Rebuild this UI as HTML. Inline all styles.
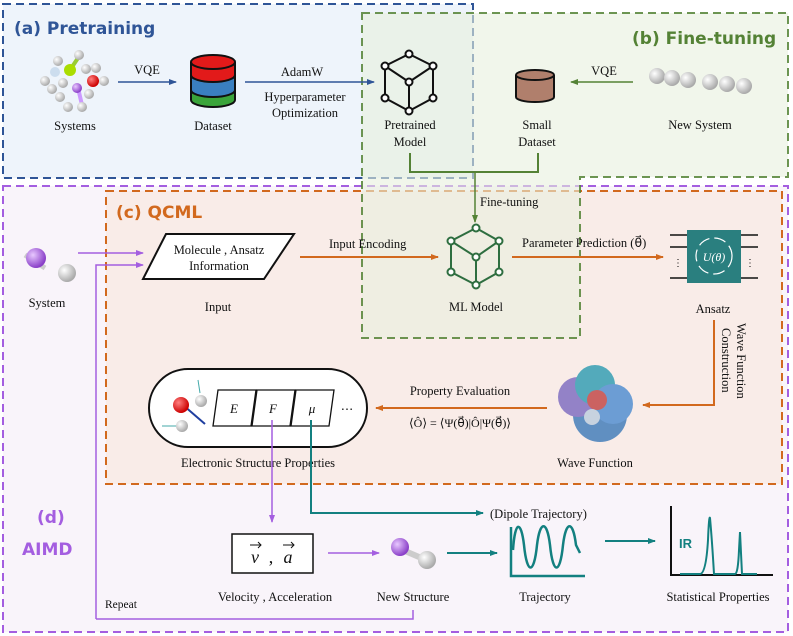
<!DOCTYPE html>
<html><head><meta charset="utf-8"><style>
html,body{margin:0;padding:0;background:#fff;}
svg{display:block;}
text{font-family:"Liberation Serif",serif;font-size:12.5px;fill:#111;}
.t{font-family:"DejaVu Sans","Liberation Sans",sans-serif;font-weight:bold;font-size:17px;}
</style></head><body>
<svg width="793" height="636" viewBox="0 0 793 636" xmlns="http://www.w3.org/2000/svg">
<defs>
<marker id="ab" markerWidth="8" markerHeight="8" refX="7" refY="4" orient="auto" markerUnits="userSpaceOnUse"><path d="M0,1 L8,4 L0,7 Z" fill="#2f5597"/></marker>
<marker id="ag" markerWidth="8" markerHeight="8" refX="7" refY="4" orient="auto" markerUnits="userSpaceOnUse"><path d="M0,1 L8,4 L0,7 Z" fill="#548235"/></marker>
<marker id="ao" markerWidth="8" markerHeight="8" refX="7" refY="4" orient="auto" markerUnits="userSpaceOnUse"><path d="M0,1 L8,4 L0,7 Z" fill="#d2691e"/></marker>
<marker id="ap" markerWidth="8" markerHeight="8" refX="7" refY="4" orient="auto" markerUnits="userSpaceOnUse"><path d="M0,1 L8,4 L0,7 Z" fill="#a45ee0"/></marker>
<marker id="at" markerWidth="8" markerHeight="8" refX="7" refY="4" orient="auto" markerUnits="userSpaceOnUse"><path d="M0,1 L8,4 L0,7 Z" fill="#138080"/></marker>
<radialGradient id="gw" cx="35%" cy="35%" r="65%"><stop offset="0" stop-color="#fff"/><stop offset="1" stop-color="#aaa"/></radialGradient>
<radialGradient id="gp" cx="35%" cy="35%" r="65%"><stop offset="0" stop-color="#e8c8ff"/><stop offset="1" stop-color="#8a3fc8"/></radialGradient>
<radialGradient id="gr" cx="35%" cy="35%" r="65%"><stop offset="0" stop-color="#ff8080"/><stop offset="1" stop-color="#c00"/></radialGradient>
</defs>
<rect x="3" y="186" width="785" height="446" fill="#f9f4fa" stroke="#a45ee0" stroke-width="2" stroke-dasharray="8,5"/>
<rect x="106" y="191" width="676" height="293" fill="#f9ece8" stroke="#d2691e" stroke-width="2" stroke-dasharray="8,5"/>
<rect x="3" y="4" width="470" height="174" fill="#eef4fb" stroke="#2f5597" stroke-width="2" stroke-dasharray="8,5"/>
<path d="M362,13 H788 V177 H580 V338 H362 Z" fill="#e8f0de" fill-opacity="0.6" stroke="#548235" stroke-opacity="0.85" stroke-width="2" stroke-dasharray="8,5"/>
<text class="t" x="14" y="34" style="fill:#2f5597">(a) Pretraining</text>
<text class="t" x="632" y="44" style="fill:#548235">(b) Fine-tuning</text>
<text class="t" x="116" y="218" style="fill:#d2691e">(c) QCML</text>
<text class="t" x="37" y="523" style="fill:#a45ee0">(d)</text>
<text class="t" x="22" y="555" style="fill:#a45ee0">AIMD</text>

<g>
<line x1="70" y1="70" x2="78" y2="58" stroke="#9c3" stroke-width="4"/>
<line x1="78" y1="88" x2="82" y2="105" stroke="#c9f" stroke-width="4"/>
<circle cx="58" cy="61" r="5" fill="url(#gw)"/><circle cx="79" cy="55" r="5" fill="url(#gw)"/>
<circle cx="55" cy="72" r="5" fill="#cde"/><circle cx="70" cy="70" r="6" fill="#ad0"/>
<circle cx="63" cy="83" r="5" fill="url(#gw)"/><circle cx="86" cy="69" r="5" fill="url(#gw)"/><circle cx="96" cy="68" r="5" fill="url(#gw)"/>
<circle cx="45" cy="81" r="5" fill="url(#gw)"/><circle cx="52" cy="89" r="5" fill="url(#gw)"/><circle cx="60" cy="97" r="5" fill="url(#gw)"/><circle cx="68" cy="107" r="5" fill="url(#gw)"/>
<circle cx="77" cy="88" r="5" fill="url(#gp)"/><circle cx="82" cy="107" r="5" fill="url(#gw)"/>
<circle cx="93" cy="81" r="6" fill="url(#gr)"/><circle cx="104" cy="81" r="5" fill="url(#gw)"/><circle cx="89" cy="94" r="5" fill="url(#gw)"/>
</g>
<text x="75" y="130" text-anchor="middle">Systems</text>
<line x1="118" y1="82" x2="176" y2="82" stroke="#2f5597" stroke-width="1.5" marker-end="url(#ab)"/>
<text x="147" y="74" text-anchor="middle">VQE</text>
<g stroke="#111" stroke-width="2">
<path d="M191,62 V100 A22,7 0 0 0 235,100 V62" fill="#3aa43a"/>
<path d="M191,62 V90 A22,7 0 0 0 235,90 V62" fill="#3a7fc0"/>
<path d="M191,62 V75 A22,7 0 0 0 235,75 V62" fill="#e21a1a"/>
<ellipse cx="213" cy="62" rx="22" ry="7" fill="#e21a1a"/>
</g>
<text x="213" y="130" text-anchor="middle">Dataset</text>
<line x1="245" y1="82" x2="374" y2="82" stroke="#2f5597" stroke-width="1.5" marker-end="url(#ab)"/>
<text x="302" y="76" text-anchor="middle">AdamW</text>
<text x="305" y="101" text-anchor="middle">Hyperparameter</text>
<text x="305" y="117" text-anchor="middle">Optimization</text>
<g stroke="#111" stroke-width="2" fill="#fff">
<path d="M409,54 L433,66 V98 L409,111 L385,98 V66 Z M385,66 L409,82 L433,66 M409,82 V111" fill="none"/>
<circle cx="409" cy="54" r="3.5"/><circle cx="433" cy="66" r="3.5"/><circle cx="433" cy="98" r="3.5"/><circle cx="409" cy="111" r="3.5"/><circle cx="385" cy="98" r="3.5"/><circle cx="385" cy="66" r="3.5"/><circle cx="409" cy="82" r="3.5"/>
</g>
<text x="410" y="129" text-anchor="middle">Pretrained</text>
<text x="410" y="146" text-anchor="middle">Model</text>
<g stroke="#111" stroke-width="2"><path d="M516,75 V97 A19,5 0 0 0 554,97 V75" fill="#b07f6c"/><ellipse cx="535" cy="75" rx="19" ry="5" fill="#b07f6c"/></g>
<text x="537" y="129" text-anchor="middle">Small</text>
<text x="537" y="146" text-anchor="middle">Dataset</text>
<line x1="633" y1="82" x2="571" y2="82" stroke="#548235" stroke-width="1.5" marker-end="url(#ag)"/>
<text x="604" y="75" text-anchor="middle">VQE</text>
<g><circle cx="657" cy="76" r="8" fill="url(#gw)"/><circle cx="672" cy="78" r="8" fill="url(#gw)"/><circle cx="688" cy="80" r="8" fill="url(#gw)"/><circle cx="710" cy="82" r="8" fill="url(#gw)"/><circle cx="727" cy="84" r="8" fill="url(#gw)"/><circle cx="744" cy="86" r="8" fill="url(#gw)"/></g>
<text x="700" y="129" text-anchor="middle">New System</text>
<path d="M410,153 V172 H538 V153" fill="none" stroke="#548235" stroke-width="2"/>
<line x1="475" y1="172" x2="475" y2="222" stroke="#548235" stroke-width="1.5" marker-end="url(#ag)"/>
<text x="480" y="206">Fine-tuning</text>

<line x1="25" y1="255" x2="45" y2="268" stroke="#ccc" stroke-width="5"/>
<circle cx="36" cy="258" r="10" fill="url(#gp)"/><circle cx="67" cy="273" r="9" fill="url(#gw)"/>
<text x="47" y="307" text-anchor="middle">System</text>
<line x1="78" y1="253" x2="143" y2="253" stroke="#a45ee0" stroke-width="1.5" marker-end="url(#ap)"/>
<path d="M96,619 V265 H143" fill="none" stroke="#a45ee0" stroke-width="1.5" marker-end="url(#ap)"/>
<path d="M96,619 H413 V610" fill="none" stroke="#a45ee0" stroke-width="1.5"/>
<text x="105" y="608" style="font-size:11.5px">Repeat</text>
<polygon points="166,234 294,234 264,279 143,279" fill="#fff" stroke="#111" stroke-width="2"/>
<text x="219" y="254" text-anchor="middle">Molecule , Ansatz</text>
<text x="219" y="270" text-anchor="middle">Information</text>
<text x="218" y="311" text-anchor="middle">Input</text>
<line x1="300" y1="257" x2="438" y2="257" stroke="#d2691e" stroke-width="2" marker-end="url(#ao)"/>
<text x="329" y="248">Input Encoding</text>
<g stroke="#2e6e40" stroke-width="2" fill="#fff">
<path d="M476,228 L499,241 V272 L476,285 L451,272 V241 Z M451,241 L476,257 L499,241 M476,257 V285" fill="none"/>
<circle cx="476" cy="228" r="3.5"/><circle cx="499" cy="241" r="3.5"/><circle cx="499" cy="272" r="3.5"/><circle cx="476" cy="285" r="3.5"/><circle cx="451" cy="272" r="3.5"/><circle cx="451" cy="241" r="3.5"/><circle cx="476" cy="257" r="3.5"/>
</g>
<text x="476" y="311" text-anchor="middle">ML Model</text>
<line x1="512" y1="257" x2="663" y2="257" stroke="#d2691e" stroke-width="2" marker-end="url(#ao)"/>
<text x="522" y="247">Parameter Prediction (θ⃗)</text>
<g stroke="#111" stroke-width="1.5"><line x1="670" y1="235" x2="758" y2="235"/><line x1="670" y1="247" x2="758" y2="247"/><line x1="670" y1="278" x2="758" y2="278"/></g>
<rect x="687" y="230" width="54" height="53" fill="#2a7f7f"/>
<circle cx="714" cy="256" r="18" fill="none" stroke="#fff" stroke-width="1.2" stroke-dasharray="12,5"/>
<text x="714" y="261" text-anchor="middle" style="fill:#fff;font-style:italic;font-size:12px">U(θ)</text>
<text x="678" y="266" text-anchor="middle" style="font-size:10px">⋮</text><text x="750" y="266" text-anchor="middle" style="font-size:10px">⋮</text>
<text x="713" y="313" text-anchor="middle">Ansatz</text>
<path d="M714,320 V405 H643" fill="none" stroke="#d2691e" stroke-width="2" marker-end="url(#ao)"/>
<text transform="translate(737,323) rotate(90)">Wave Function</text>
<text transform="translate(722,328) rotate(90)">Construction</text>
<g opacity="0.8"><circle cx="600" cy="415" r="27" fill="#3a78b8"/><circle cx="578" cy="397" r="20" fill="#7a68c0"/><circle cx="595" cy="385" r="20" fill="#2a9ab0"/><circle cx="613" cy="404" r="20" fill="#4a8ad0"/><circle cx="597" cy="400" r="10" fill="#c04040"/><circle cx="592" cy="417" r="8" fill="#bcd"/></g>
<text x="595" y="467" text-anchor="middle">Wave Function</text>
<line x1="547" y1="408" x2="376" y2="408" stroke="#d2691e" stroke-width="2" marker-end="url(#ao)"/>
<text x="460" y="395" text-anchor="middle">Property Evaluation</text>
<text x="460" y="427" text-anchor="middle" style="font-size:12px">⟨Ô⟩ = ⟨Ψ(θ⃗)|Ô|Ψ(θ⃗)⟩</text>
<rect x="149" y="369" width="218" height="78" rx="39" fill="#fff" stroke="#111" stroke-width="2"/>
<line x1="183" y1="405" x2="205" y2="424" stroke="#1f3fa0" stroke-width="2"/>
<line x1="198" y1="380" x2="200" y2="393" stroke="#4aa" stroke-width="1"/><line x1="162" y1="426" x2="178" y2="426" stroke="#4aa" stroke-width="1"/>
<circle cx="201" cy="401" r="6" fill="url(#gw)"/><circle cx="182" cy="426" r="6" fill="url(#gw)"/><circle cx="181" cy="405" r="8" fill="url(#gr)"/>
<g fill="#fff" stroke="#111" stroke-width="1.3"><polygon points="218,390 256,390 251,426 213,426"/><polygon points="257,390 295,390 290,426 252,426"/><polygon points="296,390 334,390 329,426 291,426"/></g>
<text x="234" y="413" text-anchor="middle" style="font-style:italic;font-size:13px">E</text><text x="273" y="413" text-anchor="middle" style="font-style:italic;font-size:13px">F</text><text x="312" y="413" text-anchor="middle" style="font-style:italic;font-size:13px">μ</text>
<text x="347" y="413" text-anchor="middle">⋯</text>
<text x="258" y="467" text-anchor="middle">Electronic Structure Properties</text>
<line x1="272" y1="420" x2="272" y2="522" stroke="#a45ee0" stroke-width="1.5" marker-end="url(#ap)"/>
<path d="M311,420 V513 H483" fill="none" stroke="#138080" stroke-width="2" marker-end="url(#at)"/>
<text x="490" y="518">(Dipole Trajectory)</text>
<rect x="232" y="534" width="81" height="39" fill="#fff" stroke="#111" stroke-width="1.5"/>
<text x="255" y="563" text-anchor="middle" style="font-style:italic;font-size:18px">v</text>
<text x="271" y="563" text-anchor="middle" style="font-size:18px">,</text>
<text x="288" y="563" text-anchor="middle" style="font-style:italic;font-size:18px">a</text>
<path d="M250,545 H261 M258,542 L261,545 L258,548" fill="none" stroke="#111" stroke-width="1"/>
<path d="M283,545 H294 M291,542 L294,545 L291,548" fill="none" stroke="#111" stroke-width="1"/>
<text x="275" y="601" text-anchor="middle">Velocity , Acceleration</text>
<line x1="328" y1="553" x2="379" y2="553" stroke="#a45ee0" stroke-width="1.5" marker-end="url(#ap)"/>
<line x1="398" y1="548" x2="426" y2="560" stroke="#ccc" stroke-width="6"/>
<circle cx="400" cy="547" r="9" fill="url(#gp)"/><circle cx="427" cy="560" r="9" fill="url(#gw)"/>
<text x="413" y="601" text-anchor="middle">New Structure</text>
<line x1="447" y1="553" x2="497" y2="553" stroke="#138080" stroke-width="2" marker-end="url(#at)"/>
<path d="M511,527 V576 H585" fill="none" stroke="#138080" stroke-width="2.5"/>
<path d="M513,550 C515,520 521,520 524,545 C527,575 534,575 537,545 C540,520 547,520 550,545 C553,575 560,575 563,545 C566,520 573,520 576,545 L580,553" fill="none" stroke="#138080" stroke-width="2.5"/>
<text x="545" y="601" text-anchor="middle">Trajectory</text>
<line x1="605" y1="541" x2="655" y2="541" stroke="#138080" stroke-width="2" marker-end="url(#at)"/>
<path d="M671,506 V575 H773" fill="none" stroke="#111" stroke-width="2"/>
<path d="M680,574 H700 Q706,574 708,540 Q709,515 710,518 Q712,540 714,574 H735 Q738,574 739,550 L740,532 L742,574 H757" fill="none" stroke="#138080" stroke-width="2"/>
<text x="679" y="548" style="font-family:'Liberation Sans',sans-serif;font-weight:bold;font-size:13px;fill:#138080">IR</text>
<text x="718" y="601" text-anchor="middle">Statistical Properties</text>
</svg>
</body></html>
